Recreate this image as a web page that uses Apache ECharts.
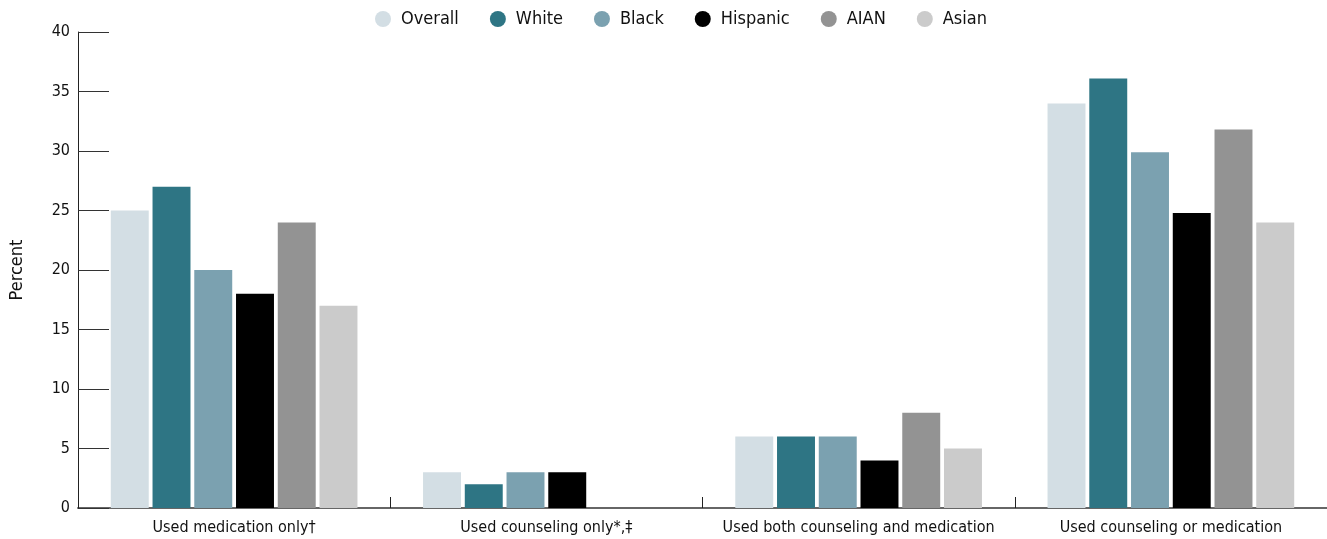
<!DOCTYPE html>
<html>
<head>
<meta charset="utf-8">
<script src="https://cdn.jsdelivr.net/npm/echarts@6/dist/echarts.min.js"></script>
<style>html,body{margin:0;padding:0;background:#fff}#chart{width:1327px;height:539px}</style>
</head>
<body>
<div id="chart"></div>
<script>
const categories = ["Used medication only\u2020", "Used counseling only*,\u2021", "Used both counseling and medication", "Used counseling or medication"];
const seriesNames = ["Overall", "White", "Black", "Hispanic", "AIAN", "Asian"];
const overall = [25, 3, 6, 34];
const white = [27, 2, 6, 36.1];
const black = [20, 3, 6, 29.9];
const hispanic = [18, 3, 4, 24.8];
const aian = [24, null, 8, 31.8];
const asian = [17, null, 5, 24];
const yTicks = [0, 5, 10, 15, 20, 25, 30, 35, 40];
const colors = ["#d3dee4", "#2e7584", "#7ba1b0", "#000000", "#939393", "#cbcbcb"];

const dataSets = [overall, white, black, hispanic, aian, asian];
const FONT = "'Liberation Sans Narrow', 'DejaVu Sans Condensed', 'Open Sans', sans-serif";
const chart = echarts.init(document.getElementById('chart'));
chart.setOption({
  animation: false,
  textStyle: { fontFamily: FONT },
  legend: {
    top: 5, left: 370,
    icon: 'circle', itemWidth: 26, itemHeight: 16, itemGap: 31,
    textStyle: { fontSize: 18, color: '#111', fontFamily: FONT }
  },
  grid: { left: 78, right: 0, top: 32, bottom: 31, containLabel: false, outerBoundsMode: 'none' },
  xAxis: {
    type: 'category',
    data: categories,
    axisLine: { show: true, lineStyle: { color: '#666', width: 2 } },
    axisTick: { show: true, inside: true, interval: 0, alignWithLabel: false, length: 11, lineStyle: { color: '#222', width: 1 } },
    axisLabel: { interval: 0, fontSize: 16, color: '#111', margin: 12, fontFamily: FONT }
  },
  yAxis: {
    type: 'value', min: yTicks[0], max: yTicks[yTicks.length - 1], interval: 5,
    name: 'Percent', nameLocation: 'middle', nameGap: 52,
    nameTextStyle: { fontSize: 18, color: '#111', fontFamily: FONT },
    axisLine: { show: true, lineStyle: { color: '#222', width: 1 } },
    axisTick: { show: true, inside: true, length: 31, lineStyle: { color: '#333' } },
    splitLine: { show: false },
    axisLabel: { fontSize: 16, color: '#111', margin: 8, fontFamily: FONT }
  },
  series: seriesNames.map((n, i) => ({
    name: n, type: 'bar', data: dataSets[i],
    itemStyle: { color: colors[i] },
    barGap: '10%', barCategoryGap: '21%'
  }))
});
</script>
</body>
</html>
